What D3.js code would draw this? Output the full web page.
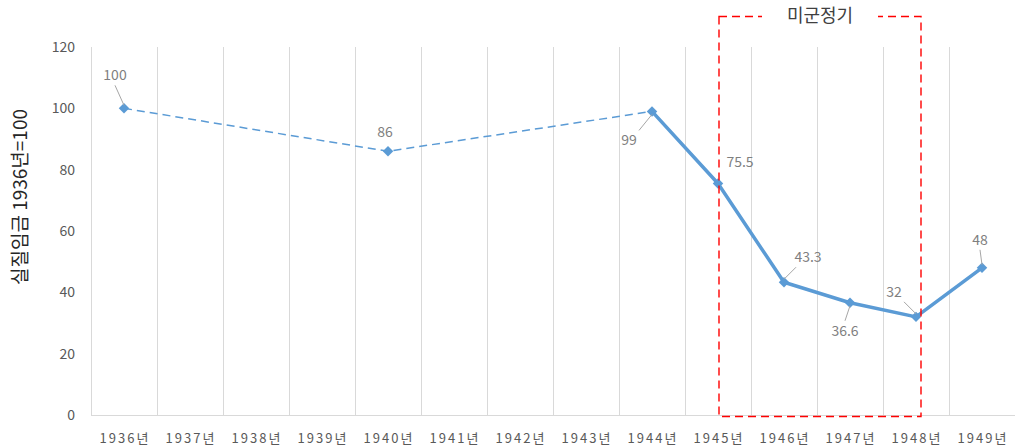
<!DOCTYPE html>
<html>
<head>
<meta charset="utf-8">
<script src="https://cdn.jsdelivr.net/npm/d3@7"></script>
<style>
  body { margin: 0; background: #fff; }
  svg text { font-family: "Noto Sans CJK KR", "Noto Sans", sans-serif; }
</style>
</head>
<body>
<svg width="1017" height="448"></svg>
<script>
// chart data
var years = ["1936년","1937년","1938년","1939년","1940년","1941년","1942년","1943년","1944년","1945년","1946년","1947년","1948년","1949년"];
var wages = [100, null, null, null, 86, null, null, null, 99, 75.5, 43.3, 36.6, 32, 48];
var yTicks = [0, 20, 40, 60, 80, 100, 120];
var periodYears = ["1945년", "1948년"];
var periodName = "미군정기";
var yTitle = "실질임금 1936년=100";

// label placement per point: dx, dy of label centre from the marker, leader line or not
var labelPos = {
  "1936년": [-9, -33, true],
  "1940년": [-3, -19, false],
  "1944년": [-23, 29, true],
  "1945년": [22, -21, false],
  "1946년": [24, -25, true],
  "1947년": [-5, 28, true],
  "1948년": [-22, -25, true],
  "1949년": [-2, -28, true]
};

function draw() {
  var svg = d3.select("svg"),
      pLeft = 91, pRight = 1015, pTop = 47, pBottom = 415;

  var x = d3.scaleBand().domain(years).range([pLeft, pRight]);
  var y = d3.scaleLinear().domain([0, 120]).range([pBottom, pTop]);

  // vertical grid lines between categories
  var g = svg.append("g");
  years.forEach(function(d, i) {
    if (i === 0) return;
    g.append("line")
     .attr("x1", x(d) + 0.5).attr("x2", x(d) + 0.5)
     .attr("y1", pTop).attr("y2", pBottom)
     .attr("stroke", "#d9d9d9").attr("stroke-width", 1);
  });
  // left + bottom axis lines
  g.append("line").attr("x1", pLeft + 0.5).attr("x2", pLeft + 0.5).attr("y1", pTop).attr("y2", pBottom)
   .attr("stroke", "#d9d9d9");
  g.append("line").attr("x1", pLeft).attr("x2", pRight).attr("y1", pBottom + 0.5).attr("y2", pBottom + 0.5)
   .attr("stroke", "#d9d9d9");

  // y tick labels
  svg.append("g").selectAll("text")
   .data(yTicks).enter().append("text")
   .attr("x", 75).attr("y", function(d) { return y(d); })
   .attr("dy", "0.35em")
   .attr("text-anchor", "end")
   .attr("font-size", "14px")
   .attr("fill", "#595959")
   .text(function(d) { return d; });

  // x tick labels
  svg.append("g").selectAll("text")
   .data(years).enter().append("text")
   .attr("x", function(d) { return x(d) + x.bandwidth() / 2 + 1; })
   .attr("y", 438)
   .attr("dy", "0.35em")
   .attr("text-anchor", "middle")
   .attr("font-size", "13px")
   .attr("letter-spacing", "2px")
   .attr("fill", "#595959")
   .text(function(d) { return d; });

  // y axis title
  svg.append("text")
   .attr("transform", "translate(20,197) rotate(-90)")
   .attr("text-anchor", "middle")
   .attr("dy", "0.35em")
   .attr("font-size", "19px")
   .attr("fill", "#262626")
   .text(yTitle);

  var pts = years.map(function(d, i) { return {year: d, value: wages[i]}; })
                 .filter(function(d) { return d.value !== null; });
  var cx = function(d) { return x(d.year) + x.bandwidth() / 2; };
  var solidIdx = pts.findIndex(function(d) { return d.year === "1944년"; });

  var line = d3.line().x(cx).y(function(d) { return y(d.value); });

  svg.append("path")
   .datum(pts.slice(0, solidIdx + 1))
   .attr("d", line)
   .attr("fill", "none")
   .attr("stroke", "#5b9bd5")
   .attr("stroke-width", 1.5)
   .attr("stroke-dasharray", "8,5");

  svg.append("path")
   .datum(pts.slice(solidIdx))
   .attr("d", line)
   .attr("fill", "none")
   .attr("stroke", "#5b9bd5")
   .attr("stroke-width", 3.5)
   .attr("stroke-linejoin", "round");

  // markers
  svg.append("g").selectAll("path")
   .data(pts).enter().append("path")
   .attr("transform", function(d) { return "translate(" + cx(d) + "," + y(d.value) + ")"; })
   .attr("d", d3.symbol().type(d3.symbolDiamond2).size(70))
   .attr("fill", "#5b9bd5");

  // data labels + leader lines
  var lab = svg.append("g");
  pts.forEach(function(d) {
    var p = labelPos[d.year], px = cx(d), py = y(d.value);
    var lx = px + p[0], ly = py + p[1];
    if (p[2]) {
      var ex = lx, ey = ly + (p[1] < 0 ? 10 : -10);
      if (Math.abs(p[0]) > 15) ex = lx + (p[0] < 0 ? 10 : -12);
      lab.append("line")
       .attr("x1", px).attr("y1", py - (p[1] < 0 ? 3 : -3))
       .attr("x2", ex).attr("y2", ey)
       .attr("stroke", "#a6a6a6").attr("stroke-width", 1);
    }
    lab.append("text")
     .attr("x", lx).attr("y", ly)
     .attr("dy", "0.35em")
     .attr("text-anchor", "middle")
     .attr("font-size", "14px")
     .attr("fill", "#7f7f7f")
     .text(d.value);
  });

  // 미군정기 box
  var bx0 = x(periodYears[0]) + x.bandwidth() / 2 + 1,
      bx1 = x(periodYears[1]) + x.bandwidth() / 2 + 5;
  svg.append("rect")
   .attr("x", bx0).attr("y", 16.5)
   .attr("width", bx1 - bx0).attr("height", 400)
   .attr("fill", "none")
   .attr("stroke", "#ff0000")
   .attr("stroke-width", 1.4)
   .attr("stroke-dasharray", "8,5");
  var mid = (bx0 + bx1) / 2;
  svg.append("rect")
   .attr("x", mid - 58).attr("y", 4).attr("width", 116).attr("height", 26)
   .attr("fill", "#fff");
  svg.append("text")
   .attr("x", mid).attr("y", 16)
   .attr("dy", "0.35em")
   .attr("text-anchor", "middle")
   .attr("font-size", "18px")
   .attr("fill", "#404040")
   .text(periodName);
}

draw();
</script>
</body>
</html>
